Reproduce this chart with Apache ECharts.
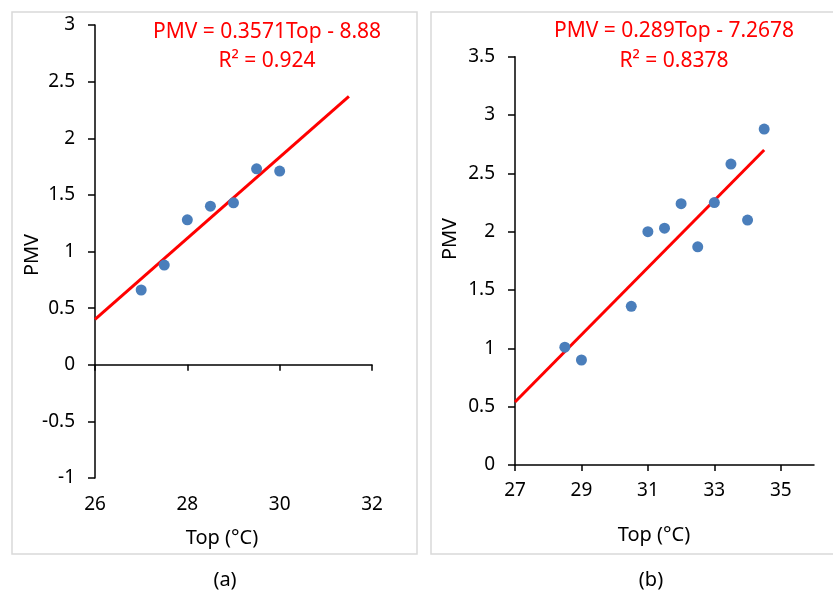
<!DOCTYPE html>
<html>
<head>
<meta charset="utf-8">
<script src="https://cdn.jsdelivr.net/npm/echarts@6/dist/echarts.min.js"></script>
<style>
html,body{margin:0;padding:0;background:#fff;}
#c{width:833px;height:592px;}
</style>
</head>
<body>
<div id="c"></div>
<script>
// Panel (a)
const topA = [27, 27.5, 28, 28.5, 29, 29.5, 30];
const pmvA = [0.66, 0.88, 1.28, 1.40, 1.43, 1.73, 1.71];
const trendTopA = [26, 31.5];
const trendPmvA = [0.40, 2.37];
const xTicksA = [26, 28, 30, 32];
// Panel (b)
const topB = [28.5, 29, 30.5, 31, 31.5, 32, 32.5, 33, 33.5, 34, 34.5];
const pmvB = [1.01, 0.90, 1.36, 2.00, 2.03, 2.24, 1.87, 2.25, 2.58, 2.10, 2.88];
const trendTopB = [27, 34.5];
const trendPmvB = [0.54, 2.70];
const xTicksB = [27, 29, 31, 33, 35];
// Texts
const eqA = 'PMV = 0.3571Top - 8.88';
const r2A = 'R² = 0.924';
const eqB = 'PMV = 0.289Top - 7.2678';
const r2B = 'R² = 0.8378';
const xTitle = 'Top (°C)';
const yTitle = 'PMV';

const FONT = '"Noto Sans", sans-serif';
const pairs = (xs, ys) => xs.map((x, i) => [x, ys[i]]);

const axisLineStyle = {color: '#000', width: 1.5};
const tickLabel = {color: '#000', fontSize: 19, fontFamily: FONT};

const chart = echarts.init(document.getElementById('c'), null, {renderer: 'canvas'});

function txt(x, y, text, opts) {
  return Object.assign({
    type: 'text', x: x, y: y, z: 100,
    style: Object.assign({
      text: text, fill: '#000', font: '20px ' + FONT,
      textAlign: 'center', textVerticalAlign: 'middle'
    }, opts && opts.style || {})
  }, opts && opts.rotation !== undefined ? {rotation: opts.rotation} : {});
}

chart.setOption({
  animation: false,
  backgroundColor: '#fff',
  grid: [
    {left: 95, top: 25, width: 277, height: 453},
    {left: 515, top: 56.7, width: 299, height: 408.3}
  ],
  xAxis: [
    {
      gridIndex: 0, type: 'value', min: 26, max: 32, interval: 2,
      axisLine: {onZero: true, lineStyle: axisLineStyle},
      axisTick: {show: true, length: 6, lineStyle: axisLineStyle, customValues: xTicksA},
      axisLabel: Object.assign({margin: 17, customValues: xTicksA}, tickLabel),
      splitLine: {show: false}
    },
    {
      gridIndex: 1, type: 'value', min: 27, max: 36,
      axisLine: {onZero: true, lineStyle: axisLineStyle},
      axisTick: {show: true, length: 6, lineStyle: axisLineStyle, customValues: xTicksB},
      axisLabel: Object.assign({margin: 16, customValues: xTicksB}, tickLabel),
      splitLine: {show: false}
    }
  ],
  yAxis: [
    {
      gridIndex: 0, type: 'value', min: -1, max: 3, interval: 0.5,
      axisLine: {show: true, onZero: false, lineStyle: axisLineStyle},
      axisTick: {show: true, length: 7, lineStyle: axisLineStyle},
      axisLabel: Object.assign({margin: 20}, tickLabel),
      splitLine: {show: false}
    },
    {
      gridIndex: 1, type: 'value', min: 0, max: 3.5, interval: 0.5,
      axisLine: {show: true, onZero: false, lineStyle: axisLineStyle},
      axisTick: {show: true, length: 7, lineStyle: axisLineStyle},
      axisLabel: Object.assign({margin: 20}, tickLabel),
      splitLine: {show: false}
    }
  ],
  series: [
    {
      type: 'line', xAxisIndex: 0, yAxisIndex: 0,
      data: pairs(trendTopA, trendPmvA), symbol: 'none',
      lineStyle: {color: '#ff0000', width: 3}, z: 3
    },
    {
      type: 'scatter', xAxisIndex: 0, yAxisIndex: 0,
      data: pairs(topA, pmvA), symbolSize: 11,
      itemStyle: {color: '#4a7ebb', opacity: 1}, z: 4
    },
    {
      type: 'line', xAxisIndex: 1, yAxisIndex: 1,
      data: pairs(trendTopB, trendPmvB), symbol: 'none',
      lineStyle: {color: '#ff0000', width: 3}, z: 3
    },
    {
      type: 'scatter', xAxisIndex: 1, yAxisIndex: 1,
      data: pairs(topB, pmvB), symbolSize: 11,
      itemStyle: {color: '#4a7ebb', opacity: 1}, z: 4
    }
  ],
  graphic: [
    {type: 'rect', shape: {x: 12, y: 12, width: 405, height: 542},
     style: {fill: null, stroke: '#d9d9d9', lineWidth: 1.5}, z: 0, silent: true},
    {type: 'rect', shape: {x: 431, y: 12, width: 410, height: 542},
     style: {fill: null, stroke: '#d9d9d9', lineWidth: 1.5}, z: 0, silent: true},
    txt(267, 32, eqA, {style: {fill: '#ff0000', font: '21px ' + FONT}}),
    txt(267, 61, r2A, {style: {fill: '#ff0000', font: '21px ' + FONT}}),
    txt(674, 31, eqB, {style: {fill: '#ff0000', font: '21px ' + FONT}}),
    txt(674, 61, r2B, {style: {fill: '#ff0000', font: '21px ' + FONT}}),
    txt(222, 538, xTitle),
    txt(654, 535, xTitle),
    txt(32, 255, yTitle, {rotation: Math.PI / 2}),
    txt(450, 239, yTitle, {rotation: Math.PI / 2}),
    txt(225, 580, '(a)'),
    txt(651, 580, '(b)')
  ]
});
</script>
</body>
</html>
